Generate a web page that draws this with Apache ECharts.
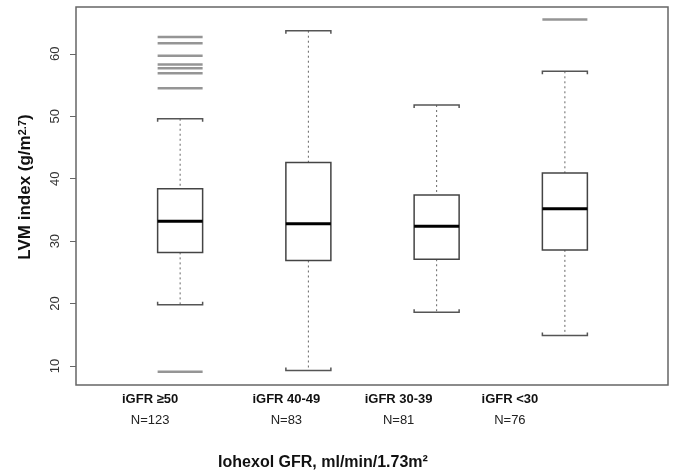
<!DOCTYPE html>
<html>
<head>
<meta charset="utf-8">
<script src="https://cdn.jsdelivr.net/npm/echarts@6/dist/echarts.min.js"></script>
<style>
    html, body { margin: 0; padding: 0; background: #fff; }
    #chart { width: 674px; height: 476px; }
</style>
</head>
<body>
<div id="chart"></div>
<script>
// groups on the x axis
const categories = ['iGFR ≥50', 'iGFR 40-49', 'iGFR 30-39', 'iGFR <30'];
const counts = ['N=123', 'N=83', 'N=81', 'N=76'];

// [lower whisker, Q1, median, Q3, upper whisker]
const boxStats = [
    [19.8, 28.2, 33.2, 38.4, 49.6],
    [9.3, 26.9, 32.8, 42.6, 63.7],
    [18.6, 27.1, 32.4, 37.4, 51.8],
    [14.9, 28.6, 35.2, 40.9, 57.2]
];

// outliers per group
const outliers = [
    [9.1, 54.5, 56.9, 57.7, 58.3, 59.7, 61.7, 62.7],
    [],
    [],
    [65.5]
];

const yTicks = [10, 20, 30, 40, 50, 60];
const yMin = 6.96;
const yMax = 67.5;

// how far each group label sits left of its box (px)
const labelShift = [30, 22, 38, 55];

const font = 'Liberation Sans, Arial, sans-serif';
const boxW = 45;

const boxData = boxStats.map((s, i) => [i].concat(s));
const outlierData = [];
outliers.forEach((list, i) => {
    list.forEach(v => outlierData.push([i, v]));
});

const rich = {};
categories.forEach((c, i) => {
    rich['t' + i] = { fontFamily: font, fontSize: 13, fontWeight: 'bold', color: '#111', lineHeight: 21, padding: [0, labelShift[i] * 2, 0, 0] };
    rich['n' + i] = { fontFamily: font, fontSize: 13, color: '#222', lineHeight: 21, padding: [0, labelShift[i] * 2, 0, 0] };
});

function renderBox(params, api) {
    const x = api.coord([api.value(0), 0])[0];
    const lo = api.coord([api.value(0), api.value(1)])[1];
    const q1 = api.coord([api.value(0), api.value(2)])[1];
    const med = api.coord([api.value(0), api.value(3)])[1];
    const q3 = api.coord([api.value(0), api.value(4)])[1];
    const hi = api.coord([api.value(0), api.value(5)])[1];
    const h = boxW / 2;
    const dotted = { stroke: '#666', lineWidth: 1, lineDash: [2, 3] };
    const cap = { stroke: '#555', lineWidth: 1.5, fill: null };
    return {
        type: 'group',
        children: [
            { type: 'line', shape: { x1: x, y1: hi, x2: x, y2: q3 }, style: dotted },
            { type: 'line', shape: { x1: x, y1: q1, x2: x, y2: lo }, style: dotted },
            { type: 'polyline', shape: { points: [[x - h, hi + 3], [x - h, hi], [x + h, hi], [x + h, hi + 3]] }, style: cap },
            { type: 'polyline', shape: { points: [[x - h, lo - 3], [x - h, lo], [x + h, lo], [x + h, lo - 3]] }, style: cap },
            { type: 'rect', shape: { x: x - h, y: q3, width: boxW, height: q1 - q3 }, style: { fill: '#fff', stroke: '#444', lineWidth: 1.5 } },
            { type: 'line', shape: { x1: x - h, y1: med, x2: x + h, y2: med }, style: { stroke: '#000', lineWidth: 3 } }
        ]
    };
}

const chart = echarts.init(document.getElementById('chart'));

chart.setOption({
    animation: false,
    backgroundColor: '#fff',
    grid: [
        { left: 76, right: 6, top: 7, bottom: 91, show: true, borderColor: '#666', borderWidth: 1.5, backgroundColor: 'transparent' },
        { left: 116, right: 45, top: 7, bottom: 91 }
    ],
    xAxis: [
        { gridIndex: 0, type: 'value', min: 0, max: 1, show: false },
        {
            gridIndex: 1,
            type: 'category',
            data: categories,
            axisLine: { show: false },
            axisTick: { show: false },
            axisLabel: {
                margin: 4,
                interval: 0,
                formatter: (v, i) => '{t' + i + '|' + v + '}\n{n' + i + '|' + counts[i] + '}',
                rich: rich
            },
            name: 'Iohexol GFR, ml/min/1.73m²',
            nameLocation: 'middle',
            nameGap: 70,
            nameTextStyle: { fontFamily: font, fontSize: 16, fontWeight: 'bold', color: '#111', padding: [0, 99, 0, 0] }
        }
    ],
    yAxis: [
        {
            gridIndex: 0,
            type: 'value',
            min: yMin,
            max: yMax,
            splitLine: { show: false },
            axisLine: { show: false },
            axisTick: { show: true, length: 6, customValues: yTicks, lineStyle: { color: '#666' } },
            axisLabel: { customValues: yTicks, rotate: 90, margin: 14, fontFamily: font, fontSize: 13, color: '#333' },
            name: 'LVM index (g/m{sup|2.7})',
            nameLocation: 'middle',
            nameRotate: 90,
            nameGap: 42,
            nameTextStyle: {
                fontFamily: font, fontSize: 17, fontWeight: 'bold', color: '#111',
                padding: [0, 0, 0, 18],
                rich: { sup: { fontFamily: font, fontSize: 11, fontWeight: 'bold', color: '#111', verticalAlign: 'top', padding: [0, 0, 6, 0] } }
            }
        },
        { gridIndex: 1, type: 'value', min: yMin, max: yMax, show: false, splitLine: { show: false } }
    ],
    series: [
        {
            type: 'custom',
            xAxisIndex: 1,
            yAxisIndex: 1,
            renderItem: renderBox,
            encode: { x: 0, y: [1, 2, 3, 4, 5] },
            data: boxData
        },
        {
            type: 'scatter',
            xAxisIndex: 1,
            yAxisIndex: 1,
            symbol: 'rect',
            symbolSize: [boxW, 2.5],
            itemStyle: { color: '#7a7a7a' },
            data: outlierData
        }
    ]
});
</script>
</body>
</html>
